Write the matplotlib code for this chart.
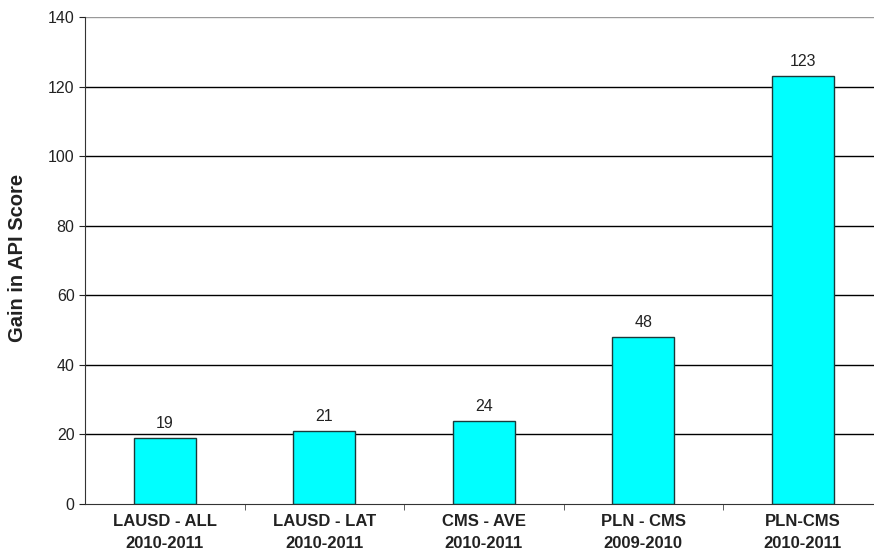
import matplotlib

matplotlib.use("Agg")
import matplotlib.pyplot as plt  # noqa: E402
import numpy as np  # noqa: E402

plt.rcParams["font.family"] = ["Liberation Sans", "DejaVu Sans"]

categories = ["LAUSD - ALL\n2010-2011", "LAUSD - LAT\n2010-2011", "CMS - AVE\n2010-2011",
              "PLN - CMS\n2009-2010", "PLN-CMS\n2010-2011"]
gains = [19, 21, 24, 48, 123]
yticks = [0, 20, 40, 60, 80, 100, 120, 140]

fig = plt.figure(figsize=(8.74, 5.57), dpi=100)
ax = fig.add_axes([85 / 874, 53 / 557, 797.5 / 874, 487 / 557])

x = np.arange(len(gains))
for yv in yticks[1:]:
    ax.axhline(yv, color="#999999" if yv == 140 else "black", lw=1.0, zorder=1)
ax.bar(x, gains, width=0.39, color="#00FFFF", edgecolor="#1a3a3a", lw=1.0, zorder=2)
for xi, g in zip(x, gains):
    ax.text(xi, g + 2.0, str(g), ha="center", va="bottom", fontsize=11.5, color="#222222")

ax.set_xlim(-0.5, len(gains) - 0.5)
ax.set_ylim(0, 140)
ax.set_yticks(yticks)
ax.tick_params(axis="y", labelsize=11.5, length=4, colors="#222222")
ax.set_xticks(x)
ax.set_xticklabels(categories, fontsize=12, fontweight="bold", color="#222222", linespacing=1.6)
ax.tick_params(axis="x", length=0, pad=7)
ax.set_xticks(x[:-1] + 0.5, minor=True)
ax.tick_params(axis="x", which="minor", length=4, color="#444444")
fig.text(18 / 874, (557 - 258) / 557, "Gain in API Score", rotation=90, ha="center",
         va="center", fontsize=14.5, fontweight="bold", color="#222222")

for s in ["top", "right"]:
    ax.spines[s].set_visible(False)
ax.spines["left"].set_color("#333333")
ax.spines["bottom"].set_color("#333333")

fig.savefig("out.png", dpi=100)
